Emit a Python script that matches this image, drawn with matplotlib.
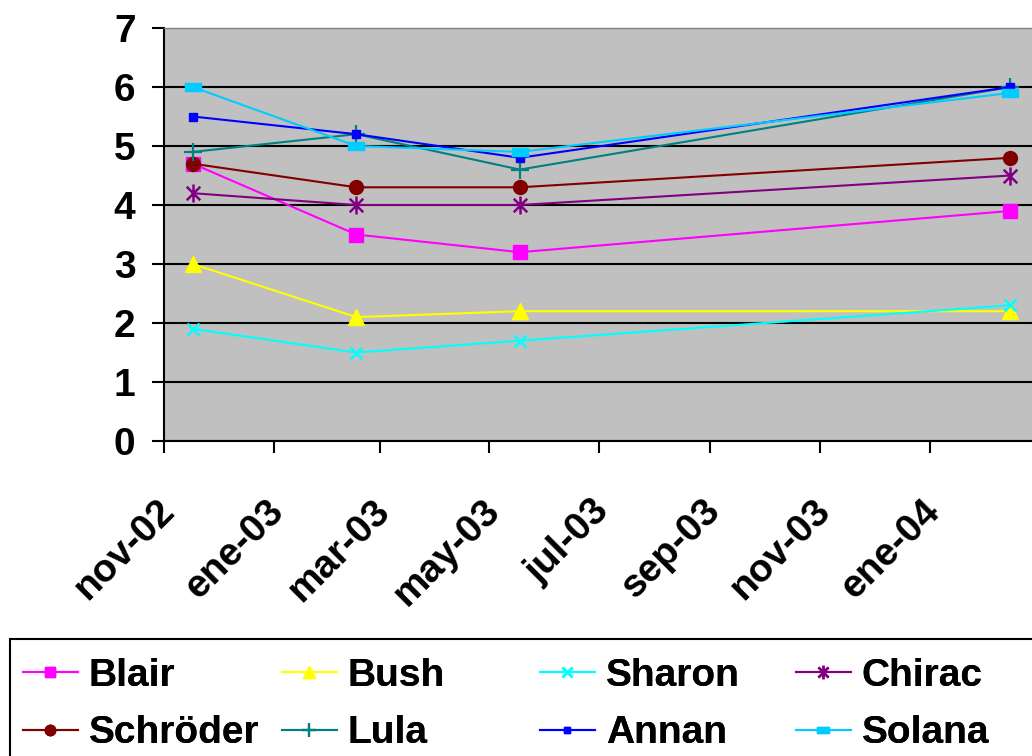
import datetime as dt
import matplotlib
matplotlib.use("Agg")
import matplotlib.pyplot as plt
from matplotlib.path import Path
from matplotlib.patches import Rectangle
from matplotlib.transforms import ScaledTranslation

plt.rcParams['font.family'] = ['Liberation Sans', 'DejaVu Sans']
plt.rcParams['font.weight'] = 'bold'

# fechas de las encuestas
fechas = [dt.date(2002, 11, 17), dt.date(2003, 2, 16),
          dt.date(2003, 5, 18), dt.date(2004, 2, 15)]

blair = [4.7, 3.5, 3.2, 3.9]
bush = [3.0, 2.1, 2.2, 2.2]
sharon = [1.9, 1.5, 1.7, 2.3]
chirac = [4.2, 4.0, 4.0, 4.5]
schroder = [4.7, 4.3, 4.3, 4.8]
lula = [4.9, 5.2, 4.6, 6.0]
annan = [5.5, 5.2, 4.8, 6.0]
solana = [6.0, 5.0, 4.9, 5.9]

tick_fechas = [dt.date(2002, 11, 1), dt.date(2003, 1, 1), dt.date(2003, 3, 1),
               dt.date(2003, 5, 1), dt.date(2003, 7, 1), dt.date(2003, 9, 1),
               dt.date(2003, 11, 1), dt.date(2004, 1, 1)]
tick_labels = ['nov-02', 'ene-03', 'mar-03', 'may-03', 'jul-03', 'sep-03',
               'nov-03', 'ene-04']

# marcadores tipo Excel
star = Path([(0, -1), (0, 1), (-0.75, -0.75), (0.75, 0.75), (-0.75, 0.75), (0.75, -0.75)],
            [Path.MOVETO, Path.LINETO, Path.MOVETO, Path.LINETO, Path.MOVETO, Path.LINETO])
rect = Path([(-1, -0.55), (1, -0.55), (1, 0.55), (-1, 0.55), (-1, -0.55)],
            [Path.MOVETO, Path.LINETO, Path.LINETO, Path.LINETO, Path.CLOSEPOLY])

series = [
    ('Blair', blair, '#FF00FF', dict(marker='s', ms=10)),
    ('Bush', bush, '#FFFF00', dict(marker='^', ms=11)),
    ('Sharon', sharon, '#00FFFF', dict(marker='x', ms=9, mew=1.8)),
    ('Chirac', chirac, '#800080', dict(marker=star, ms=13, mew=1.8, mfc='none')),
    ('Schröder', schroder, '#800000', dict(marker='o', ms=10)),
    ('Lula', lula, '#008080', dict(marker='+', ms=13, mew=1.6)),
    ('Annan', annan, '#0000FF', dict(marker='s', ms=6)),
    ('Solana', solana, '#00CCFF', dict(marker=rect, ms=11)),
]

fig = plt.figure(figsize=(10.32, 7.56), dpi=100)
ax = fig.add_axes([164 / 1032, 1 - 441 / 756, 1 - 164 / 1032, (441 - 28) / 756])
ax.set_facecolor('#C0C0C0')

lines = []
for nombre, vals, color, mk in series:
    ln, = ax.plot(fechas, vals, color=color, lw=1.5, label=nombre, **mk)
    lines.append(ln)

ax.set_ylim(0, 7)
ax.set_yticks(range(0, 8))
ax.set_xlim(dt.date(2002, 11, 1), dt.date(2004, 2, 27))
ax.set_xticks(tick_fechas)
ax.set_xticklabels(tick_labels)

ax.yaxis.grid(True, color='black', lw=1.5)
ax.get_ygridlines()[-1].set_visible(False)
ax.set_axisbelow(True)

for s in ['left', 'bottom']:
    ax.spines[s].set_color('black')
    ax.spines[s].set_linewidth(1.5)
ax.spines['top'].set_color('#808080')
ax.spines['top'].set_linewidth(1)
ax.spines['right'].set_visible(False)

ax.tick_params(axis='both', direction='out', length=8.5, width=1.5, labelsize=28)
ax.tick_params(axis='y', pad=12)
ax.tick_params(axis='x', pad=0)

off = ScaledTranslation(-8 / 100, -40 / 100, fig.dpi_scale_trans)
for lab in ax.get_xticklabels():
    lab.set_rotation(45)
    lab.set_rotation_mode('anchor')
    lab.set_ha('right')
    lab.set_va('top')
    lab.set_transform(lab.get_transform() + off)

# leyenda: una columna por bloque, columnas de ancho fijo como en Excel
col_x = [23, 282, 540, 796]
for i, x0 in enumerate(col_x):
    hs = [lines[i], lines[i + 4]]
    leg = fig.legend(hs, [h.get_label() for h in hs], loc='center left',
                     bbox_to_anchor=(x0 / 1032, 1 - 704.5 / 756),
                     frameon=False, borderpad=0, borderaxespad=0,
                     handlelength=1.41, handletextpad=0.28, labelspacing=0.55,
                     markerscale=0.75, prop={'size': 28, 'weight': 'bold'})
    fig.add_artist(leg)

fig.add_artist(Rectangle((10 / 1032, -0.2), 1.1, 0.2 + 1 - 639 / 756,
                         transform=fig.transFigure, fill=False,
                         edgecolor='black', lw=1.5))

fig.savefig('out.png', dpi=100)
